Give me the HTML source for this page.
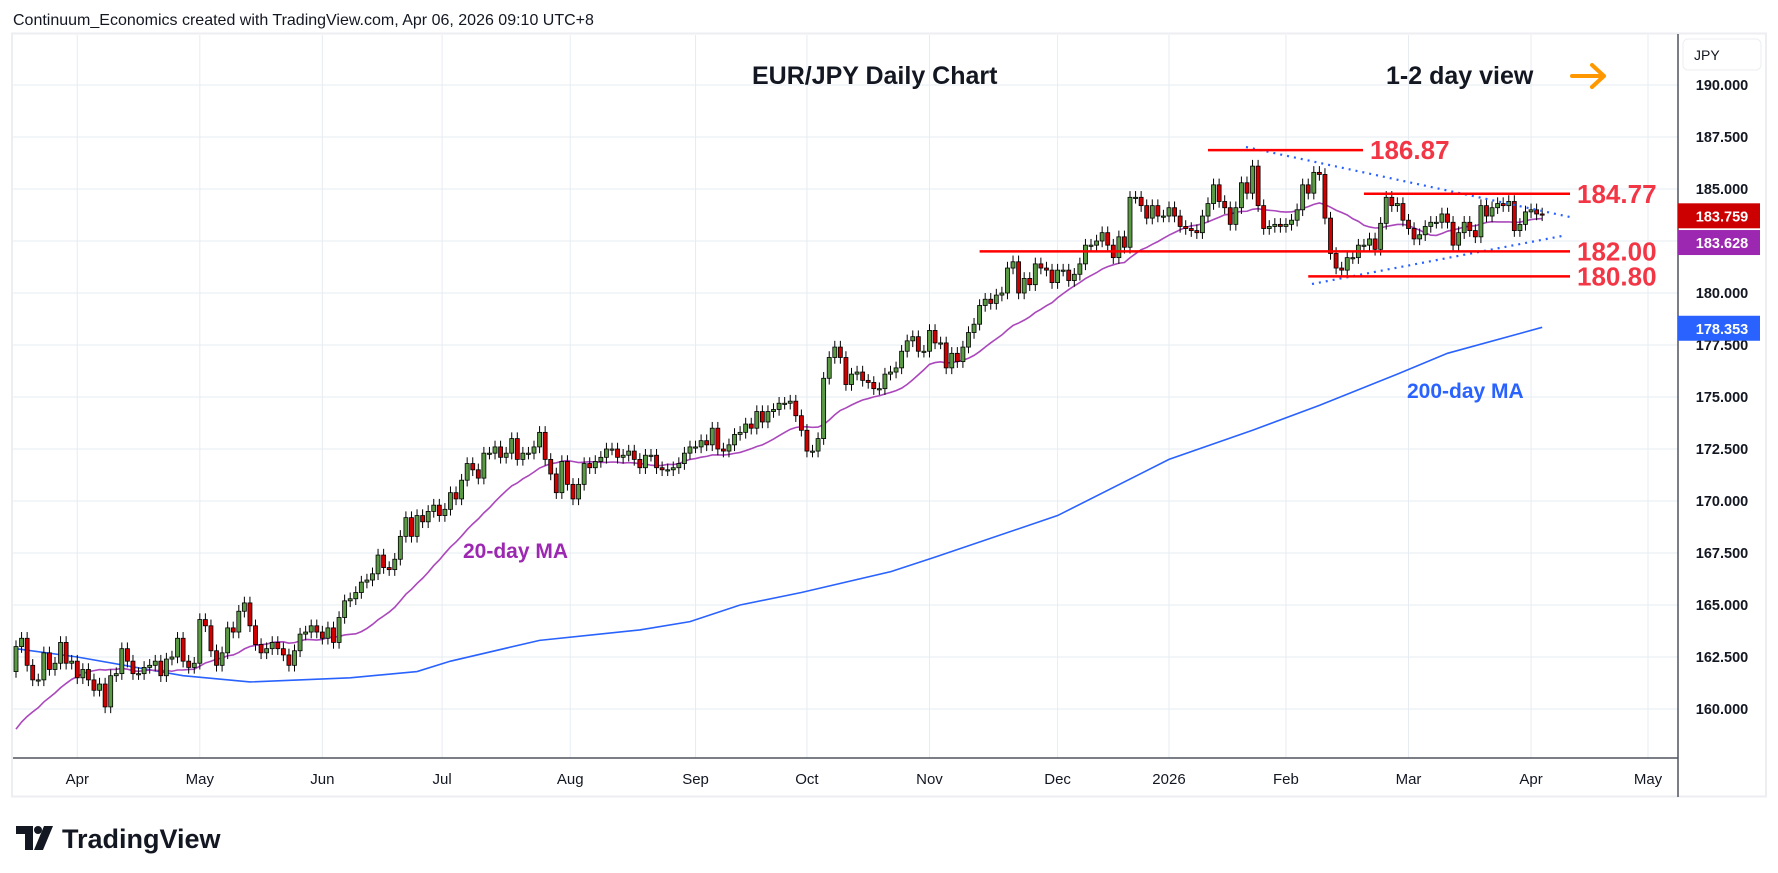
<!DOCTYPE html>
<html><head><meta charset="utf-8"><title>EUR/JPY Daily Chart</title>
<style>
html,body{margin:0;padding:0;background:#fff;}
svg{display:block;font-family:"Liberation Sans",sans-serif;}
</style></head>
<body>
<svg id="chart" width="1778" height="873" viewBox="0 0 1778 873" xmlns="http://www.w3.org/2000/svg">
<rect x="0" y="0" width="1778" height="873" fill="#fff"/>
<text x="13" y="25" font-size="16" fill="#131722">Continuum_Economics created with TradingView.com, Apr 06, 2026 09:10 UTC+8</text>
<rect x="12" y="33.5" width="1754" height="763" fill="none" stroke="#eceef2" stroke-width="2"/>
<defs><clipPath id="plotclip"><rect x="13" y="35" width="1665" height="723"/></clipPath></defs>
<g id="grid"></g>
<g id="plot" clip-path="url(#plotclip)"></g>
<g id="overlay">
  <text x="752" y="84" font-size="25" font-weight="bold" fill="#131722">EUR/JPY Daily Chart</text>
  <text x="1386" y="84" font-size="25" font-weight="bold" fill="#131722">1-2 day view</text>
  <g stroke="#ff9800" stroke-width="4" fill="none" stroke-linecap="round" stroke-linejoin="round">
    <line x1="1572" y1="76" x2="1603" y2="76"/>
    <polyline points="1592,65 1604,76 1592,87"/>
  </g>
  <text x="463" y="558" font-size="21" font-weight="bold" fill="#9c27b0">20-day MA</text>
  <text x="1407" y="398" font-size="21" font-weight="bold" fill="#2962ff">200-day MA</text>
</g>
<line x1="1678" y1="34" x2="1678" y2="797" stroke="#50535e" stroke-width="1.5"/>
<line x1="13" y1="758" x2="1678" y2="758" stroke="#50535e" stroke-width="1.5"/>
<rect x="1683" y="39" width="78" height="31" rx="5" fill="#fff" stroke="#eceef2"/>
<text x="1694" y="60" font-size="14" fill="#131722">JPY</text>
<g id="yaxis"></g>
<g id="xaxis"></g>
<g id="tags"></g>
<g>
  <path d="M16 826 H33 V850 H25 V834 H16 Z" fill="#131722"/>
  <circle cx="38" cy="830" r="4" fill="#131722"/>
  <path d="M44 826 H53 L43 850 H34 Z" fill="#131722"/>
  <text x="62" y="848" font-size="27" font-weight="bold" fill="#131722">TradingView</text>
</g>
</svg>
<script>
// ---- data ----
const preCloses = [156.5,156.8,157.0,157.3,157.2,157.6,157.9,158.2,158.0,158.4,158.8,159.1,159.5,159.9,160.2,160.6,161.0,161.5,162.1];
const closes = [
163.0,163.4,162.1,161.4,161.4,162.7,161.9,162.2,163.2,162.2,
162.3,161.5,161.9,161.4,160.9,161.2,160.1,161.6,161.7,162.9,
162.3,161.7,161.7,162.0,162.1,162.3,161.6,162.4,162.5,163.4,
162.3,162.0,162.2,164.3,164.0,162.8,162.1,162.7,163.9,163.7,
164.7,165.1,164.0,163.1,162.7,162.9,163.2,162.9,162.6,162.1,
162.8,163.6,163.7,164.0,163.7,163.4,163.9,163.2,164.4,165.2,
165.3,165.6,166.1,166.2,166.5,167.4,166.8,166.7,167.2,168.3,
169.2,168.3,169.3,169.0,169.5,169.8,169.3,169.6,
170.4,170.1,171.0,171.8,171.5,171.1,172.3,172.3,172.6,172.1,
172.3,173.0,172.0,172.3,172.3,172.6,173.3,172.0,171.3,170.4,
171.9,170.8,170.1,170.8,171.8,171.6,171.9,172.1,172.5,172.5,
172.1,172.2,172.4,172.0,171.6,172.2,172.2,171.6,171.5,171.5,
171.6,171.8,172.3,172.6,172.6,172.9,172.7,173.5,172.5,172.4,
172.7,173.2,173.3,173.7,173.5,174.3,173.8,174.3,174.4,174.7,
174.7,174.8,174.1,173.4,172.4,172.4,173.0,175.9,176.9,177.4,
176.9,175.6,176.1,176.2,175.8,175.7,175.4,175.4,176.1,
176.2,176.4,177.2,177.7,177.9,177.2,177.2,178.2,177.6,177.6,
176.4,177.1,176.7,177.4,178.1,178.5,179.4,179.7,179.5,179.9,
180.0,181.2,181.5,180.0,180.7,180.4,181.4,181.2,181.1,180.5,
181.1,181.1,180.6,180.9,181.4,182.3,182.3,182.5,182.9,182.3,
181.7,182.7,182.2,184.6,184.6,184.2,183.6,184.2,183.7,183.7,
184.1,183.7,183.2,183.1,183.0,182.9,183.7,184.3,185.2,184.4,
184.1,183.3,184.1,185.3,184.8,186.1,184.2,183.1,183.2,183.3,
183.2,183.3,183.5,184.0,
185.2,184.8,185.8,185.7,183.6,181.9,181.2,181.1,181.7,181.7,
182.3,182.3,182.6,182.1,183.35,184.6,184.2,184.3,183.5,183.1,
182.6,182.8,183.2,183.4,183.4,183.8,183.4,182.3,182.9,183.4,
183.0,182.7,184.2,183.7,184.1,184.3,184.2,184.4,183.0,183.3,
183.9,184.0,183.8,183.76];
const ma200Idx = [0,11,30,42,60,72,78,94,112,121,130,141,157,165,187,207,222,234,248,257,274];
const ma200Val = [162.9,162.5,161.6,161.3,161.5,161.8,162.3,163.3,163.8,164.2,165.0,165.6,166.6,167.3,169.3,172.0,173.4,174.6,176.1,177.1,178.35];
const yTicks = [160,162.5,165,167.5,170,172.5,175,177.5,180,182.5,185,187.5,190];
const monthLabels = ["Apr","May","Jun","Jul","Aug","Sep","Oct","Nov","Dec","2026","Feb","Mar","Apr","May"];
const monthIdx = [11,33,55,76.5,99.5,122,142,164,187,207,228,250,272,293];
const levelValues = [186.87,184.77,182.00,180.80];
const levelStartIdx = [214,242,173,232];
const lastPrice = 183.759, lastMA20 = 183.628, lastMA200 = 178.353;

// ---- scales ----
const NS = "http://www.w3.org/2000/svg";
function yOf(p){ return 709 - (p-160)*20.8; }
function xOf(i){ return 16 + i*5.57; }
function mk(tag, attrs, parent){ const e=document.createElementNS(NS,tag); for(const k in attrs) e.setAttribute(k,attrs[k]); parent.appendChild(e); return e; }

const grid=document.getElementById('grid'), plot=document.getElementById('plot'),
      yaxis=document.getElementById('yaxis'), xaxis=document.getElementById('xaxis'),
      tags=document.getElementById('tags'), overlay=document.getElementById('overlay');

// grid
[157.5].concat(yTicks).concat([192.5]).forEach(p=>{
  const y=yOf(p); if(y<36||y>757) return;
  const l=mk('line',{x1:13,x2:1678,y1:y,y2:y,stroke:'#e6ecf2','stroke-width':1},grid);
  
  
});
monthIdx.forEach((mi,k)=>{
  const x=xOf(mi);
  const l=mk('line',{x1:x,x2:x,y1:35,y2:758,stroke:'#e6ecf2','stroke-width':1},grid);
  
  
  const t=mk('text',{x:x,y:784,'font-size':15,fill:'#131722','text-anchor':'middle'},xaxis);
  t.textContent=monthLabels[k];
  
  
});
yTicks.forEach(p=>{
  const t=mk('text',{x:1722,y:yOf(p)+5,'font-size':14.5,'font-weight':'bold',fill:'#131722','text-anchor':'middle'},yaxis);
  t.textContent=p.toFixed(3);
  
  
});

// 200 MA
let pts=ma200Idx.map((i,k)=>xOf(i)+','+yOf(ma200Val[k])).join(' ');
const m200=mk('polyline',{points:pts,fill:'none',stroke:'#2962ff','stroke-width':1.6},plot);



// 20 MA
const all=preCloses.concat(closes);
let mpts=[];
for(let i=0;i<closes.length;i++){
  const j=i+preCloses.length; let s=0,n=0;
  for(let k=Math.max(0,j-19);k<=j;k++){ s+=all[k]; n++; }
  mpts.push(xOf(i)+','+yOf(s/n));
}
const m20=mk('polyline',{points:mpts.join(' '),fill:'none',stroke:'#ab47bc','stroke-width':1.6},plot);



// candles
for(let i=0;i<closes.length;i++){
  const c=closes[i], o= i===0 ? 161.8 : closes[i-1];
  const hi=Math.max(o,c)+0.3, lo=Math.min(o,c)-0.3;
  const x=xOf(i), up=c>=o;
  const g=mk('g',{},plot);
  
  
  mk('line',{x1:x,x2:x,y1:yOf(hi),y2:yOf(lo),stroke:'#000','stroke-width':1},g);
  const top=yOf(Math.max(o,c)), h=Math.max(1.2,yOf(Math.min(o,c))-top);
  mk('rect',{x:x-2,y:top,width:4,height:h,fill:up?'#5b9a45':'#d00000',stroke:'#000','stroke-width':0.8},g);
}

// trend lines (dotted)
const tl1=mk('line',{x1:1246,y1:147,x2:1570,y2:217,stroke:'#2962ff','stroke-width':2.2,'stroke-dasharray':'2 5'},overlay);


const tl2=mk('line',{x1:1312,y1:284,x2:1562,y2:236,stroke:'#2962ff','stroke-width':2.2,'stroke-dasharray':'2 5'},overlay);



// levels
levelValues.forEach((v,k)=>{
  const y=yOf(v), x1=xOf(levelStartIdx[k]), x2= k===0 ? 1363 : 1570;
  const l=mk('line',{x1:x1,x2:x2,y1:y,y2:y,stroke:'#ff0000','stroke-width':2.5},overlay);
  
  
  const t=mk('text',{x:x2+7,y:y+9,'font-size':26,'font-weight':'bold',fill:'#f23645'},overlay);
  t.textContent=v.toFixed(2);
  
  
});

// price tags
function tag(v,yc,color,name){
  const g=mk('g',{},tags);
  
  
  mk('rect',{x:1678,y:yc-12.5,width:82,height:25,fill:color},g);
  const t=mk('text',{x:1722,y:yc+5.5,'font-size':14.5,'font-weight':'bold',fill:'#fff','text-anchor':'middle'},g);
  t.textContent=v.toFixed(3);
}
tag(lastPrice,yOf(lastPrice)+1,'#cc0000','last-price-tag');
tag(lastMA20,yOf(lastMA20)+25,'#9c27b0','ma20-price-tag');
tag(lastMA200,yOf(lastMA200)+1,'#2962ff','ma200-price-tag');
</script>
</body></html>
